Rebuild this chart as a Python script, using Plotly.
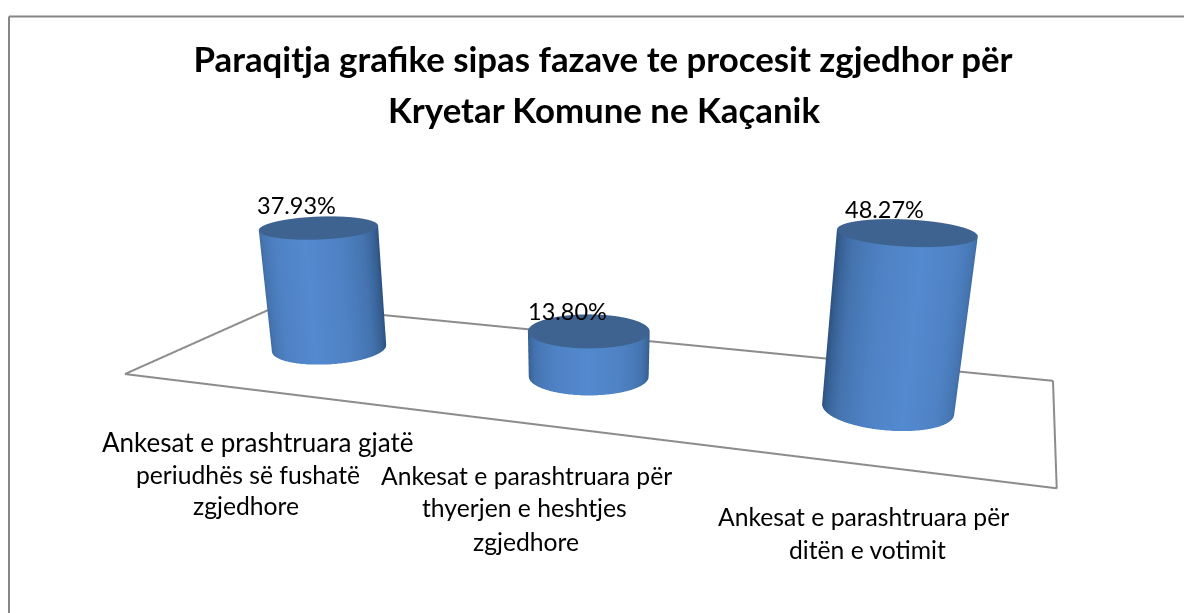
import numpy as np
import plotly.graph_objects as go

category_lines = [["Ankesat e prashtruara gjatë", "periudhës së fushatë", "zgjedhore"],
                  ["Ankesat e parashtruara për", "thyerjen e heshtjes", "zgjedhore"],
                  ["Ankesat e parashtruara për", "ditën e votimit"]]
values = [37.93, 13.80, 48.27]
value_labels = ["37.93%", "13.80%", "48.27%"]
title_lines = ["Paraqitja grafike sipas fazave te procesit zgjedhor për", "Kryetar Komune ne Kaçanik"]

W, H = 1184, 1000
FONT = "Lato"
Lx, Ly, k = 2.4, 0.776, 0.0092
ZMAX = 60
Hz = k * ZMAX
eye = np.array([1.014, -2.965, 1.026 - Hz / 2])
fw = np.array([-0.2917, 0.8663, -0.4056])
ctr = eye + 3.2 * fw
up = np.array([-0.1328, 0.3833, 0.9141])

RX, RY, Y0 = 0.204, 0.212, 0.519
LIGHT = np.deg2rad(-72)
flat = dict(ambient=1, diffuse=0, specular=0, fresnel=0, roughness=1)
cs = [[0, "#5389ce"], [0.17, "#4f82c5"], [0.33, "#4473ae"], [0.5, "#2f5484"], [1, "#2f5484"]]

fig = go.Figure()
theta = np.linspace(0, 2 * np.pi, 181)
for i, v in enumerate(values):
    cx = i + 0.5
    xx = np.array([cx + RX * np.cos(theta)] * 2)
    yy = np.array([Y0 + RY * np.sin(theta)] * 2)
    zz = np.array([np.zeros_like(theta), np.full_like(theta, v)])
    ang = np.abs(np.angle(np.exp(1j * (theta - LIGHT)))) / np.pi
    fig.add_trace(go.Surface(x=xx, y=yy, z=zz, surfacecolor=np.array([ang] * 2), colorscale=cs,
                             cmin=0, cmax=1, showscale=False, hoverinfo="skip", lighting=flat))
    fig.add_trace(go.Mesh3d(x=np.r_[cx, cx + RX * np.cos(theta)], y=np.r_[Y0, Y0 + RY * np.sin(theta)],
                            z=np.full(theta.size + 1, v), alphahull=-1, delaunayaxis="z",
                            color="#3e6391", flatshading=True, lighting=flat, hoverinfo="skip"))
fig.add_trace(go.Scatter3d(x=[0, 3, 3, 0, 0], y=[0, 0, 1, 1, 0], z=[0] * 5, mode="lines",
                           line=dict(color="#8c8c8c", width=4), hoverinfo="skip"))
ax = dict(visible=False)
frame = dict(color="#868686", width=2)
fig.update_layout(
    width=W, height=H, margin=dict(l=0, r=0, t=0, b=0), showlegend=False,
    paper_bgcolor="white", font=dict(family=FONT, color="black"),
    scene=dict(xaxis=dict(ax, range=[0, 3]), yaxis=dict(ax, range=[0, 1]), zaxis=dict(ax, range=[0, ZMAX]),
               aspectmode="manual", aspectratio=dict(x=Lx, y=Ly, z=Hz),
               camera=dict(eye=dict(zip("xyz", eye.tolist())), center=dict(zip("xyz", ctr.tolist())),
                           up=dict(zip("xyz", up.tolist()))),
               domain=dict(x=[0, 1], y=[0, 1])),
    title=dict(text="<b>" + title_lines[0] + "</b>", x=603 / W, xanchor="center", y=1 - 60 / H, yanchor="middle",
               font=dict(size=34.8, family=FONT)),
    shapes=[dict(type="line", xref="paper", yref="paper", x0=9 / W, x1=1, y0=1 - 16.5 / H, y1=1 - 16.5 / H, line=frame),
            dict(type="line", xref="paper", yref="paper", x0=9 / W, x1=9 / W, y0=1 - 16.5 / H, y1=0, line=frame)],
)
def txt(t, x, y, size=24.7, bold=False):
    return dict(text=("<b>%s</b>" % t) if bold else t, x=x / W, y=1 - y / H, xref="paper", yref="paper",
                showarrow=False, xanchor="center", yanchor="middle", font=dict(size=size, family=FONT, color="black"))
anns = [txt(title_lines[1], 604, 110, 34.8, True)]
for t, x, y in zip(value_labels, [296, 567, 884], [205, 311, 209]):
    anns.append(txt(t, x, y, 23.5))
pos = [([258, 248, 246], [442, 474, 505], [26, 24.7, 24.7]),
       ([526, 524, 526], [475, 507, 541], [24.7, 24.7, 24.7]),
       ([863, 867], [516, 549], [24.7, 24.7])]
for lines, (xs, ys, sz) in zip(category_lines, pos):
    for t, x, y, s in zip(lines, xs, ys, sz):
        anns.append(txt(t, x, y, s))
fig.update_layout(annotations=anns)
fig.write_html("out.html", config=dict(displayModeBar=False),
               post_script="document.documentElement.style.overflow='hidden';document.body.style.margin='0';document.body.style.overflow='hidden';")
